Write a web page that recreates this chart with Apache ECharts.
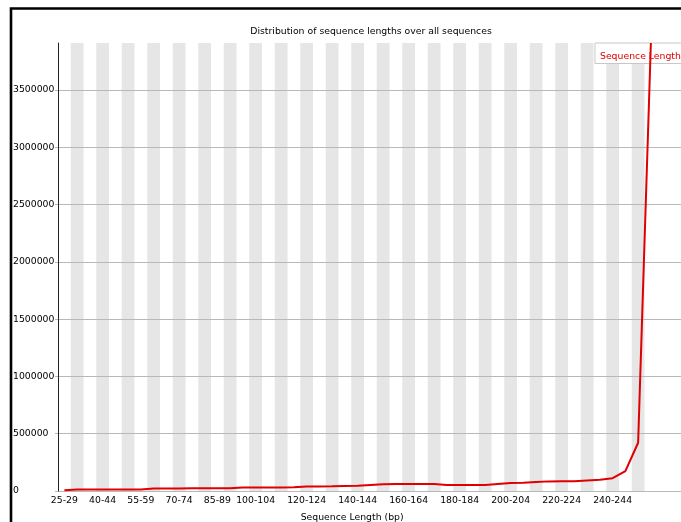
<!DOCTYPE html>
<html>
<head>
<meta charset="utf-8">
<style>
  html, body { margin: 0; padding: 0; background: #ffffff; }
  #chart { width: 681px; height: 522px; }
</style>
<script src="https://cdn.jsdelivr.net/npm/echarts@6/dist/echarts.min.js"></script>
</head>
<body>
<div id="chart"></div>
<script>
// Length bins (bp), one per category
const lengthBins = [
  '25-29', '30-34', '35-39', '40-44', '45-49', '50-54', '55-59', '60-64', '65-69', '70-74',
  '75-79', '80-84', '85-89', '90-94', '95-99', '100-104', '105-109', '110-114', '115-119', '120-124',
  '125-129', '130-134', '135-139', '140-144', '145-149', '150-154', '155-159', '160-164', '165-169', '170-174',
  '175-179', '180-184', '185-189', '190-194', '195-199', '200-204', '205-209', '210-214', '215-219', '220-224',
  '225-229', '230-234', '235-239', '240-244', '245-249', '250-254', '255-259'
];

// Bins whose label is printed under the axis
const shownBinLabels = [
  '25-29', '40-44', '55-59', '70-74', '85-89', '100-104', '120-124',
  '140-144', '160-164', '180-184', '200-204', '220-224', '240-244'
];

// Number of sequences in each length bin
const sequenceCounts = [
  6000, 13000, 13000, 13000, 14000, 14000, 14000, 22000, 22000, 22000,
  23000, 23000, 23000, 24000, 31000, 31000, 31000, 31000, 32000, 40000,
  40000, 41000, 43000, 45000, 52000, 58000, 62000, 62000, 62000, 61000,
  53000, 52000, 52000, 53000, 62000, 70000, 72000, 78000, 84000, 85000,
  86000, 92000, 98000, 112000, 173000, 421000, 3910000
];

// Value axis range and spacing
const yMax = 3910000;
const yStep = 500000;

const seriesName = 'Sequence Length';
const red = '#e00000';
const font = 'DejaVu Sans';

const chart = echarts.init(document.getElementById('chart'), null, { renderer: 'canvas' });

chart.setOption({
  animation: false,
  backgroundColor: '#ffffff',
  textStyle: { fontFamily: font },
  title: {
    text: 'Distribution of sequence lengths over all sequences',
    left: 371,
    top: 27,
    textAlign: 'center',
    padding: 0,
    textStyle: { fontFamily: font, fontSize: 9.3, fontWeight: 'normal', color: '#000' }
  },
  legend: {
    data: [{ name: seriesName, icon: 'none' }],
    left: 595,
    top: 43,
    itemWidth: 0,
    itemHeight: 10,
    padding: [9, 6, 2, 0],
    backgroundColor: '#ffffff',
    borderColor: '#c8c8c8',
    borderWidth: 1,
    borderRadius: 0,
    selectedMode: false,
    textStyle: { fontFamily: font, fontSize: 9.3, color: red }
  },
  graphic: [{
    type: 'polyline',
    shape: { points: [[11, 540], [11, 8.5], [700, 8.5]] },
    style: { stroke: '#000', lineWidth: 2.6, fill: null },
    silent: true
  }],
  grid: [
    // plotting area holding the categories
    { left: 58, top: 43, bottom: 31, width: 599.25, containLabel: false, outerBoundsMode: 'none' },
    // horizontal guide lines running out to the right edge
    { left: 58, top: 43, bottom: 31, right: -40, containLabel: false, outerBoundsMode: 'none' }
  ],
  xAxis: [
    {
      gridIndex: 0,
      type: 'category',
      data: lengthBins,
      boundaryGap: true,
      z: 0,
      axisLine: { show: false },
      axisTick: { show: false },
      axisLabel: {
        interval: (i, value) => shownBinLabels.indexOf(value) !== -1,
        margin: 5,
        fontFamily: font,
        fontSize: 9.3,
        color: '#000'
      },
      splitLine: { show: false },
      splitArea: {
        show: true,
        interval: 0,
        areaStyle: { color: ['rgba(255,255,255,0)', '#e6e6e6'] }
      },
      name: 'Sequence Length (bp)',
      nameLocation: 'middle',
      nameGap: 22,
      nameTextStyle: { fontFamily: font, fontSize: 9.3, color: '#000', padding: [0, 11, 0, 0] }
    },
    {
      gridIndex: 1,
      type: 'value',
      show: false,
      min: 0,
      max: 1
    }
  ],
  yAxis: [
    {
      gridIndex: 0,
      type: 'value',
      min: 0,
      max: yMax,
      interval: yStep,
      z: 3,
      axisLine: { show: true, lineStyle: { color: '#222', width: 1 } },
      axisTick: { show: true, length: 3, lineStyle: { color: '#b4b4b4' } },
      axisLabel: {
        align: 'left',
        margin: 45,
        showMaxLabel: false,
        formatter: (v) => String(v),
        fontFamily: font,
        fontSize: 9.3,
        color: '#000'
      },
      splitLine: { show: false }
    },
    {
      gridIndex: 1,
      type: 'value',
      min: 0,
      max: yMax,
      interval: yStep,
      z: 1,
      axisLine: { show: false },
      axisTick: { show: false },
      axisLabel: { show: false },
      splitLine: { show: true, showMaxLine: false, lineStyle: { color: '#b8b8b8', width: 1 } }
    }
  ],
  series: [{
    name: seriesName,
    type: 'line',
    xAxisIndex: 0,
    yAxisIndex: 0,
    data: sequenceCounts,
    showSymbol: false,
    symbol: 'none',
    z: 5,
    lineStyle: { color: red, width: 2 },
    itemStyle: { color: red }
  }]
});
</script>
</body>
</html>
